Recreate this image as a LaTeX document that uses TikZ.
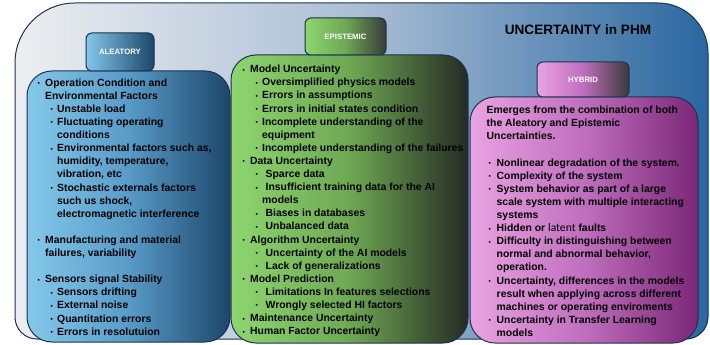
\documentclass[tikz,border=0pt]{standalone}
\usepackage{fontspec}
\setmainfont{Liberation Sans}
\newfontfamily\latentfont{Carlito}
\usetikzlibrary{positioning}

\definecolor{edge}{RGB}{27,51,80}
\definecolor{framel}{RGB}{236,238,241}
\definecolor{framem}{RGB}{170,190,212}
\definecolor{framer}{RGB}{42,103,160}
\definecolor{alel}{RGB}{132,200,234}
\definecolor{alem}{RGB}{88,155,200}
\definecolor{aler}{RGB}{28,70,106}
\definecolor{epil}{RGB}{142,214,111}
\definecolor{epim}{RGB}{110,168,84}
\definecolor{epir}{RGB}{38,42,36}
\definecolor{hybl}{RGB}{233,163,226}
\definecolor{hybm}{RGB}{192,110,190}
\definecolor{hybr}{RGB}{122,39,120}
\definecolor{tagdark}{RGB}{58,58,58}

% bullets and hanging indents
\newcommand{\dotmark}{\raisebox{0.6pt}{\fontsize{6.5}{6.5}\selectfont\textbullet}}
\newcommand{\bl}{\makebox[7.5pt][l]{\dotmark}}
\newcommand{\sbl}{\hspace*{13pt}\makebox[6.5pt][l]{\dotmark}}
\newcommand{\wsbl}{\hspace*{13pt}\makebox[10pt][l]{\dotmark}}
\newcommand{\cnt}{\hspace*{7.5pt}}
\newcommand{\scnt}{\hspace*{19.5pt}}
\newcommand{\hbl}{\hspace*{2pt}\makebox[8pt][l]{\dotmark}}
\newcommand{\hcnt}{\hspace*{10pt}}

\begin{document}
\begin{tikzpicture}[x=1pt, y=-1pt, node distance=0pt]
  \tikzstyle{tag} = [draw=edge, line width=1pt, rounded corners=6pt, text=white, font=\fontsize{7.8}{9}\selectfont\bfseries]
  \tikzstyle{panel} = [draw=edge, line width=1pt, rounded corners=25pt]
  \tikzstyle{txt} = [inner sep=0pt, align=left, font=\fontsize{10.4}{13.1}\selectfont\bfseries]
  \useasboundingbox (0,0) rectangle (710,345);

  % outer frame
  \path[draw=edge, line width=1pt, left color=framel, right color=framer, middle color=framem]
    (15,63) arc[start angle=180, end angle=90, radius=60pt] -- (658,3)
    arc[start angle=90, end angle=0, radius=50pt] -- (708,317)
    arc[start angle=0, end angle=-90, radius=22pt] -- (37,339)
    arc[start angle=-90, end angle=-180, radius=22pt] -- cycle;
  \node[font=\fontsize{13.6}{15}\selectfont\bfseries] (title) at (578,30) {UNCERTAINTY in PHM};

  % panels
  \node[panel, left color=alel, right color=aler, middle color=alem, minimum width=203pt, minimum height=271pt] (aleatory) at (128.5,206.5) {};
  \node[panel, left color=epil, right color=epir, middle color=epim, minimum width=237pt, minimum height=288pt] (epistemic) at (349.5,199) {};
  \node[panel, left color=hybl, right color=hybr, middle color=hybm, minimum width=228pt, minimum height=246pt] (hybrid) at (584,220) {};

  % tags
  \node[tag, left color=alel, right color=aler, minimum width=68pt, minimum height=38pt] (aleatorytag) at (120,52) {ALEATORY};
  \node[tag, left color=epil, right color=tagdark, middle color=epim, minimum width=81pt, minimum height=37pt] (epistemictag) at (345.5,36.5) {EPISTEMIC};
  \node[tag, left color=hybl, right color=tagdark, middle color=hybm, minimum width=92pt, minimum height=35pt] (hybridtag) at (583,79.5) {HYBRID};

  % texts
  \node[txt, below right=8pt and 11pt of aleatory.north west] (aleatorytext) {%
    \bl Operation Condition and\\
    \cnt Environmental Factors\\
    \sbl Unstable load\\
    \sbl Fluctuating operating\\
    \scnt conditions\\
    \sbl Environmental factors such as,\\
    \scnt humidity, temperature,\\
    \scnt vibration, etc\\
    \sbl Stochastic externals factors\\
    \scnt such us shock,\\
    \scnt electromagnetic interference\\
    \mbox{}\\
    \bl Manufacturing and material\\
    \cnt failures, variability\\
    \mbox{}\\
    \bl Sensors signal Stability\\
    \sbl Sensors drifting\\
    \sbl External noise\\
    \sbl Quantitation errors\\
    \sbl Errors in resolutuion};
  \node[txt, below right=10.5pt and 12pt of epistemic.north west] (epistemictext) {%
    \bl Model Uncertainty\\
    \sbl Oversimplified physics models\\
    \sbl Errors in assumptions\\
    \sbl Errors in initial states condition\\
    \sbl Incomplete understanding of the\\
    \scnt equipment\\
    \sbl Incomplete understanding of the failures\\
    \bl Data Uncertainty\\
    \wsbl Sparce data\\
    \wsbl Insufficient training data for the AI\\
    \scnt models\\
    \wsbl Biases in databases\\
    \wsbl Unbalanced data\\
    \bl Algorithm Uncertainty\\
    \wsbl Uncertainty of the AI models\\
    \wsbl Lack of generalizations\\
    \bl Model Prediction\\
    \wsbl Limitations In features selections\\
    \wsbl Wrongly selected HI factors\\
    \bl Maintenance Uncertainty\\
    \bl Human Factor Uncertainty};
  \node[txt, below right=9.5pt and 17pt of hybrid.north west] (hybridtext) {%
    Emerges from the combination of both\\
    the Aleatory and Epistemic\\
    Uncertainties.\\
    \mbox{}\\
    \hbl Nonlinear degradation of the system.\\
    \hbl Complexity of the system\\
    \hbl System behavior as part of a large\\
    \hcnt scale system with multiple interacting\\
    \hcnt systems\\
    \hbl Hidden or {\latentfont\mdseries\fontsize{11.6}{13.1}\selectfont latent} faults\\
    \hbl Difficulty in distinguishing between\\
    \hcnt normal and abnormal behavior,\\
    \hcnt operation.\\
    \hbl Uncertainty, differences in the models\\
    \hcnt result when applying across different\\
    \hcnt machines or operating enviroments\\
    \hbl Uncertainty in Transfer Learning\\
    \hcnt models};
\end{tikzpicture}
\end{document}
